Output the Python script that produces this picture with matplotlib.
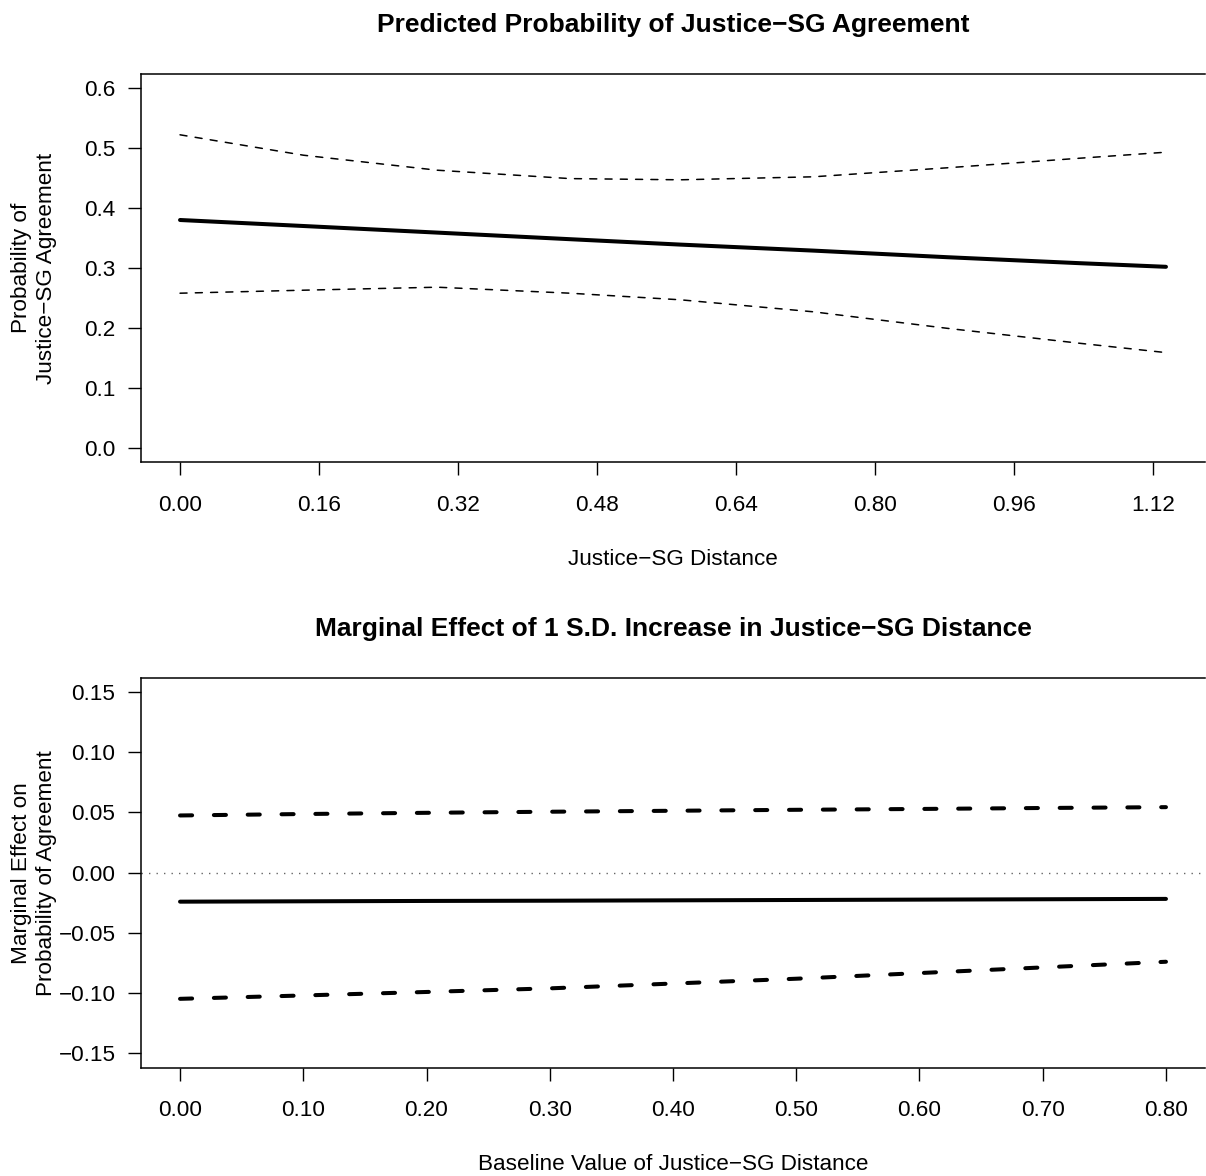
import matplotlib
matplotlib.use("Agg")
import matplotlib.pyplot as plt

plt.rcParams['font.family'] = ['Liberation Sans', 'DejaVu Sans']

# top panel: predicted probability
top_x = [0.0, 0.142, 0.296, 0.449, 0.576, 0.729, 0.883, 1.036, 1.135]
top_fit = [0.380, 0.370, 0.359, 0.348, 0.339, 0.329, 0.318, 0.308, 0.302]
top_upper = [0.522, 0.488, 0.463, 0.449, 0.447, 0.452, 0.467, 0.483, 0.493]
top_lower = [0.258, 0.263, 0.268, 0.258, 0.247, 0.227, 0.1995, 0.1745, 0.159]
top_xticks = [0.0, 0.16, 0.32, 0.48, 0.64, 0.80, 0.96, 1.12]
top_xlabels = ["0.00", "0.16", "0.32", "0.48", "0.64", "0.80", "0.96", "1.12"]
top_yticks = [0.0, 0.1, 0.2, 0.3, 0.4, 0.5, 0.6]
top_ylabels = ["0.0", "0.1", "0.2", "0.3", "0.4", "0.5", "0.6"]

# bottom panel: marginal effect
bot_x = [0.0, 0.1, 0.2, 0.3, 0.4, 0.5, 0.6, 0.7, 0.8]
bot_fit = [-0.0241, -0.0238, -0.0235, -0.0233, -0.0230, -0.0227, -0.0224, -0.0221, -0.0218]
bot_upper = [0.0475, 0.0487, 0.0497, 0.0506, 0.0514, 0.0522, 0.0529, 0.0537, 0.0544]
bot_lower = [-0.1048, -0.1020, -0.0991, -0.0961, -0.0921, -0.0881, -0.0834, -0.0787, -0.0740]
bot_xticks = [0.0, 0.1, 0.2, 0.3, 0.4, 0.5, 0.6, 0.7, 0.8]
bot_xlabels = ["0.00", "0.10", "0.20", "0.30", "0.40", "0.50", "0.60", "0.70", "0.80"]
bot_yticks = [-0.15, -0.10, -0.05, 0.0, 0.05, 0.10, 0.15]
bot_ylabels = ["\u22120.15", "\u22120.10", "\u22120.05", "0.00", "0.05", "0.10", "0.15"]

W, H = 1206, 1176
fig = plt.figure(figsize=(W / 100, H / 100), dpi=100)

FS = 16.2
TFS = 19


def px_axes(left, top, right, bottom):
    return fig.add_axes([left / W, 1 - bottom / H, (right - left) / W, (bottom - top) / H])


def style(ax):
    ax.spines['right'].set_visible(False)
    for s in ['left', 'top', 'bottom']:
        ax.spines[s].set_linewidth(1.1)
    ax.tick_params(axis='both', direction='out', length=9.4, width=1.0, labelsize=FS)
    ax.tick_params(axis='x', pad=14)
    ax.tick_params(axis='y', pad=8.6)


# ---- top panel
ax1 = px_axes(140.6, 73.6, 1205.4, 462.4)
ax1.plot(top_x, top_fit, color='black', lw=2.9, solid_capstyle='round')
ax1.plot(top_x, top_upper, color='black', lw=1.1, linestyle=(0, (4.6, 5.4)), dash_capstyle='round')
ax1.plot(top_x, top_lower, color='black', lw=1.1, linestyle=(0, (4.6, 5.4)), dash_capstyle='round')
ax1.set_xlim(-0.04 * 1.135, 1.04 * 1.135)
ax1.set_ylim(-0.024, 0.624)
ax1.set_xticks(top_xticks)
ax1.set_xticklabels(top_xlabels)
ax1.set_yticks(top_yticks)
ax1.set_yticklabels(top_ylabels)
style(ax1)

fig.text(673 / W, 1 - 32 / H, "Predicted Probability of Justice\u2212SG Agreement",
         ha='center', va='baseline', fontsize=TFS, fontweight='bold')
fig.text(673 / W, 1 - 565 / H, "Justice\u2212SG Distance", ha='center', va='baseline', fontsize=FS)
fig.text(34 / W, 1 - 268 / H, "Probability of\nJustice\u2212SG Agreement", ha='center', va='center',
         rotation=90, fontsize=FS, linespacing=1.2)

# ---- bottom panel
ax2 = px_axes(140.6, 677.6, 1205.4, 1067.7)
ax2.axhline(0, color='#666666', lw=1.0, linestyle=(0, (1, 4.4)))
ax2.plot(bot_x, bot_fit, color='black', lw=2.9, solid_capstyle='round')
ax2.plot(bot_x, bot_upper, color='black', lw=2.9, linestyle=(0, (3, 5.4)), dash_capstyle='round')
ax2.plot(bot_x, bot_lower, color='black', lw=2.9, linestyle=(0, (3, 5.4)), dash_capstyle='round')
ax2.set_xlim(-0.032, 0.832)
ax2.set_ylim(-0.162, 0.162)
ax2.set_xticks(bot_xticks)
ax2.set_xticklabels(bot_xlabels)
ax2.set_yticks(bot_yticks)
ax2.set_yticklabels(bot_ylabels)
style(ax2)

fig.text(673 / W, 1 - 636 / H, "Marginal Effect of 1 S.D. Increase in Justice\u2212SG Distance",
         ha='center', va='baseline', fontsize=TFS, fontweight='bold')
fig.text(673 / W, 1 - 1170 / H, "Baseline Value of Justice\u2212SG Distance", ha='center', va='baseline', fontsize=FS)
fig.text(34 / W, 1 - 873 / H, "Marginal Effect on\nProbability of Agreement", ha='center', va='center',
         rotation=90, fontsize=FS, linespacing=1.2)

fig.savefig("out.png", dpi=100, facecolor='white')
